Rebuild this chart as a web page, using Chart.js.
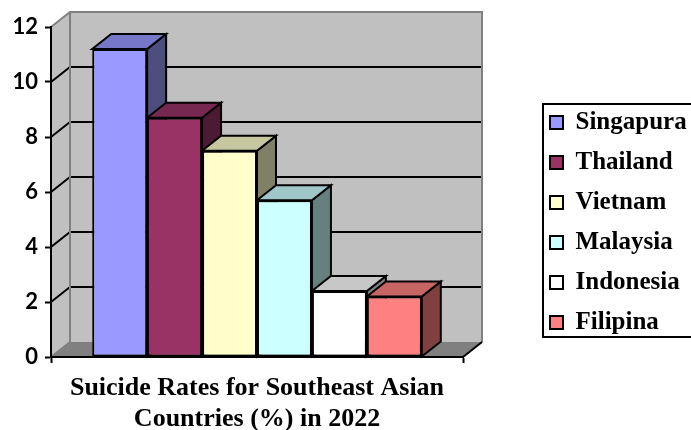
<!DOCTYPE html>
<html>
<head>
<meta charset="utf-8">
<script src="https://cdn.jsdelivr.net/npm/chart.js@4/dist/chart.umd.min.js"></script>
<style>
  html, body { margin: 0; padding: 0; background: #ffffff; }
  #c { display: block; }
</style>
</head>
<body>
<canvas id="c" width="691" height="430"></canvas>
<script>
// ---- data ----
const categories = [''];
const countries = ['Singapura', 'Thailand', 'Vietnam', 'Malaysia', 'Indonesia', 'Filipina'];
const rates = [11.2, 8.7, 7.5, 5.7, 2.4, 2.2];
const barColors = ['#9999FF', '#993366', '#FFFFCC', '#CCFFFF', '#FFFFFF', '#FF8080'];
const yTicks = [0, 2, 4, 6, 8, 10, 12];
const axisTitle = ['Suicide Rates for Southeast Asian', 'Countries (%) in 2022'];

// ---- style helpers ----
const DX = 19, DY = 15;
function shade(hex, f) {
  const n = parseInt(hex.slice(1), 16);
  const r = Math.round(((n >> 16) & 255) * f);
  const g = Math.round(((n >> 8) & 255) * f);
  const b = Math.round((n & 255) * f);
  return 'rgb(' + r + ',' + g + ',' + b + ')';
}

const threeD = {
  id: 'threeD',
  afterLayout(chart) {
    const lg = chart.legend;
    if (lg) {
      lg.left = 535; lg.top = 95; lg.right = 691; lg.bottom = 430;
      lg.width = lg.right - lg.left; lg.height = lg.bottom - lg.top;
    }
  },
  beforeDraw(chart) {
    const { ctx, chartArea: a, scales: { y } } = chart;
    ctx.save();
    // back wall
    ctx.fillStyle = '#c0c0c0';
    ctx.fillRect(a.left + DX, a.top - DY, a.right - a.left, a.bottom - a.top);
    // left wall
    ctx.beginPath();
    ctx.moveTo(a.left, a.bottom); ctx.lineTo(a.left, a.top);
    ctx.lineTo(a.left + DX, a.top - DY); ctx.lineTo(a.left + DX, a.bottom - DY);
    ctx.closePath(); ctx.fill();
    // floor
    ctx.fillStyle = '#808080';
    ctx.beginPath();
    ctx.moveTo(a.left, a.bottom); ctx.lineTo(a.right, a.bottom);
    ctx.lineTo(a.right + DX, a.bottom - DY); ctx.lineTo(a.left + DX, a.bottom - DY);
    ctx.closePath(); ctx.fill();
    // gridlines on walls
    ctx.lineWidth = 2; ctx.strokeStyle = '#000';
    yTicks.forEach(v => {
      if (v === y.min || v === y.max) return;
      const py = y.getPixelForValue(v);
      ctx.beginPath();
      ctx.moveTo(a.left, py); ctx.lineTo(a.left + DX, py - DY); ctx.lineTo(a.right + DX, py - DY);
      ctx.stroke();
    });
    // grey wall edges
    ctx.strokeStyle = '#808080';
    ctx.beginPath();
    ctx.moveTo(a.left, a.top); ctx.lineTo(a.left + DX, a.top - DY);
    ctx.lineTo(a.right + DX, a.top - DY); ctx.lineTo(a.right + DX, a.bottom - DY);
    ctx.stroke();
    ctx.beginPath();
    ctx.moveTo(a.left + DX, a.top - DY); ctx.lineTo(a.left + DX, a.bottom - DY); ctx.lineTo(a.left, a.bottom);
    ctx.stroke();
    // floor right edge
    ctx.strokeStyle = '#000';
    ctx.beginPath();
    ctx.moveTo(a.right, a.bottom); ctx.lineTo(a.right + DX, a.bottom - DY);
    ctx.stroke();
    ctx.restore();
  },
  beforeDatasetsDraw(chart) {
    const ctx = chart.ctx;
    ctx.save();
    ctx.lineWidth = 2; ctx.strokeStyle = '#000'; ctx.lineJoin = 'miter';
    chart.data.datasets.forEach((ds, i) => {
      const meta = chart.getDatasetMeta(i);
      meta.data.forEach(el => {
        const { x, y, base, width } = el.getProps(['x', 'y', 'base', 'width'], true);
        const l = x - width / 2, r = x + width / 2;
        const col = ds.backgroundColor;
        // side
        ctx.fillStyle = shade(col, 0.5);
        ctx.beginPath();
        ctx.moveTo(r, y); ctx.lineTo(r + DX, y - DY); ctx.lineTo(r + DX, base - DY); ctx.lineTo(r, base);
        ctx.closePath(); ctx.fill(); ctx.stroke();
        // top
        ctx.fillStyle = shade(col, 0.78);
        ctx.beginPath();
        ctx.moveTo(l, y); ctx.lineTo(l + DX, y - DY); ctx.lineTo(r + DX, y - DY); ctx.lineTo(r, y);
        ctx.closePath(); ctx.fill(); ctx.stroke();
      });
    });
    ctx.restore();
  },
  afterDraw(chart) {
    const ctx = chart.ctx;
    ctx.save();
    ctx.lineWidth = 2; ctx.strokeStyle = '#000';
    ctx.strokeRect(543, 104, 200, 233);
    ctx.restore();
  }
};

const datasets = countries.map((name, i) => ({
  label: name,
  data: [rates[i]],
  backgroundColor: barColors[i],
  borderColor: '#000000',
  borderWidth: 2,
  borderSkipped: false,
  categoryPercentage: 0.8,
  barPercentage: 1.0
}));

new Chart(document.getElementById('c'), {
  type: 'bar',
  data: { labels: categories, datasets: datasets },
  plugins: [threeD],
  options: {
    responsive: false,
    animation: false,
    devicePixelRatio: 1,
    layout: { padding: { top: 27, right: 228, bottom: 0, left: 0 } },
    plugins: {
      tooltip: { enabled: false },
      legend: {
        display: true,
        position: 'chartArea',
        align: 'start',
        labels: {
          boxWidth: 13,
          boxHeight: 13,
          padding: 15,
          color: '#000000',
          font: { family: '"Liberation Serif", serif', size: 25, weight: 'bold' }
        }
      }
    },
    scales: {
      x: {
        type: 'category',
        offset: true,
        afterFit: s => { s.height = 73; },
        ticks: { display: false },
        grid: { display: true, drawOnChartArea: false, drawTicks: true, tickLength: 6, tickColor: '#000', tickWidth: 2, offset: true },
        border: { display: true, color: '#000000', width: 2 },
        title: {
          display: true,
          text: axisTitle,
          color: '#000000',
          font: { family: '"Liberation Serif", serif', size: 26, weight: 'bold', lineHeight: '31px' },
          padding: { top: 0, bottom: -5 }
        }
      },
      y: {
        min: 0,
        max: 12,
        afterFit: s => { s.width = 51; },
        afterBuildTicks: s => { s.ticks = yTicks.map(v => ({ value: v })); },
        ticks: {
          color: '#000000',
          padding: 7,
          font: { family: 'Lato, "Liberation Sans", sans-serif', size: 22, weight: 'bold' }
        },
        grid: { display: true, drawOnChartArea: false, drawTicks: true, tickLength: 6, tickColor: '#000', tickWidth: 2 },
        border: { display: true, color: '#000000', width: 2 }
      }
    }
  }
});
</script>
</body>
</html>
